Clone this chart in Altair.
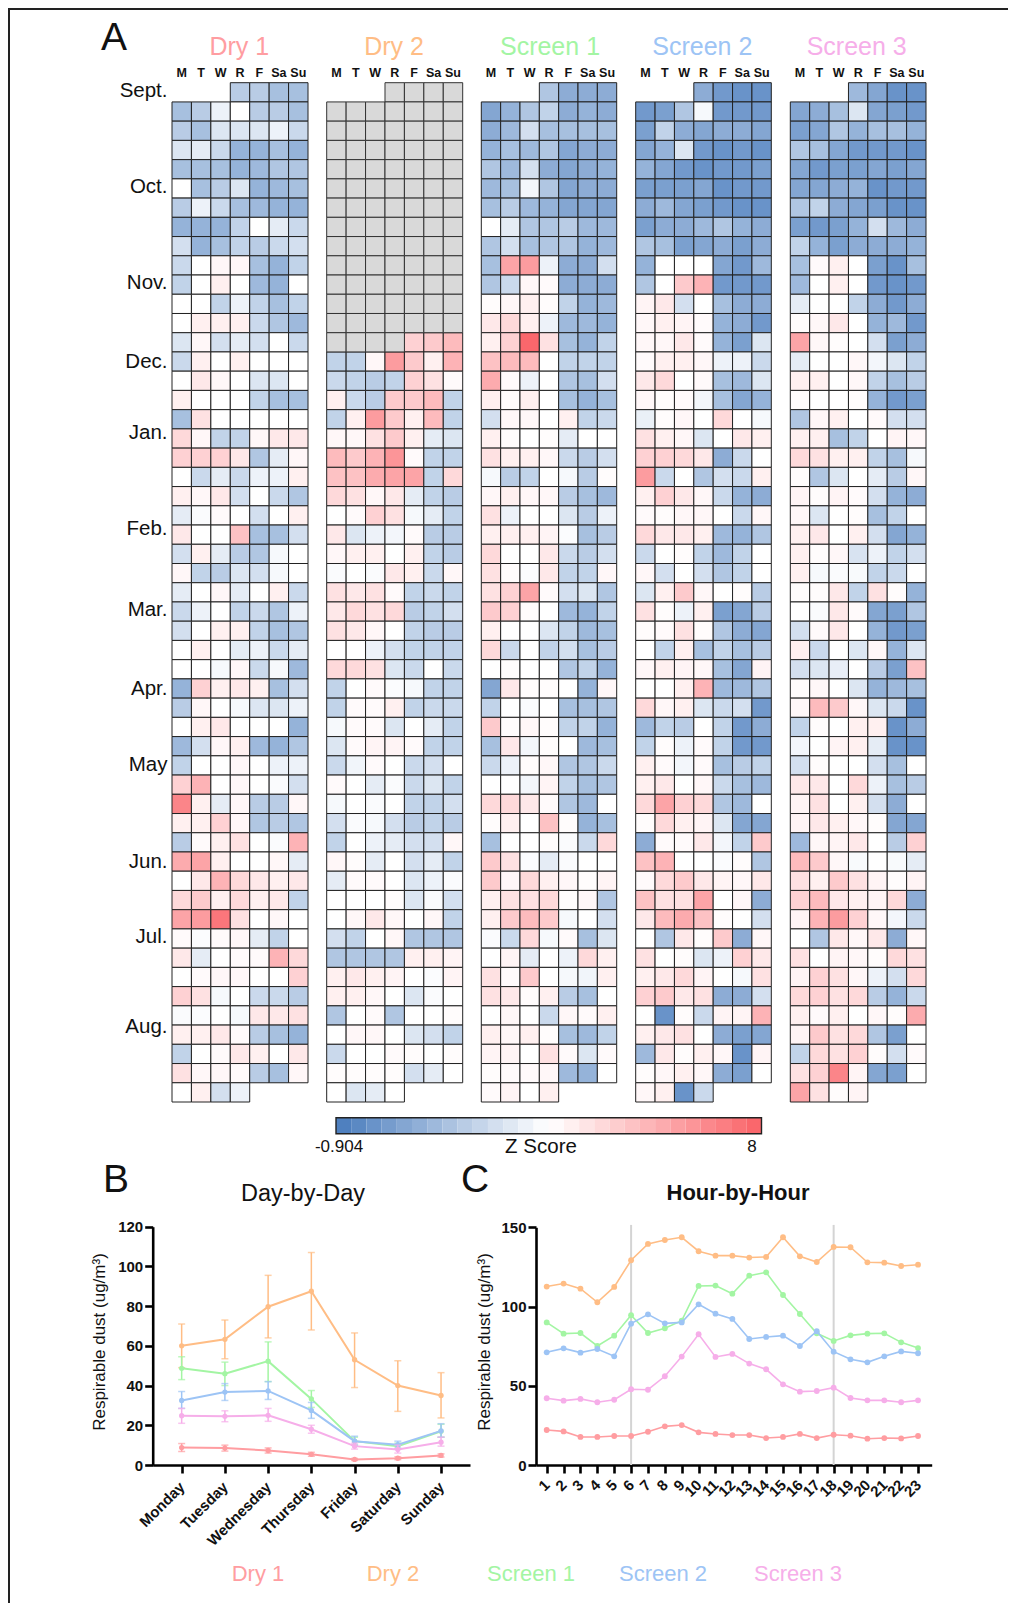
import altair as alt
import pandas as pd

N = None
G = "G"
DAYS = ["M", "T", "W", "R", "F", "Sa", "Su"]

dry1 = [
[N,N,N,-4,-4,-5,-5],[-5,-4,-1,0,-4,-4,-5],[-4,-5,-2,-2,-2,-1,-3],[-2,-1.5,-3,-6,-6,-5,-6],
[-5,-5,-5,-6,-5.5,-4.5,-4.5],[0,-5,-4,-2,-6,-5.5,-5],[-4,-1,-3,-5,-5.5,-6,-6],[-6,-6,-6,-3.5,0,-1.5,-3],
[-2.5,-6,-5,-3.5,-4,-3,-2.5],[-3,0,0.5,0.5,-5,-6,-3.5],[-3.5,0,1,0,-5.5,-6,0],[0,0,-3.5,-1,-3.5,-5,-3.5],
[0,1,1,1,-3,-4.5,-5.5],[-2,0.5,-2.5,-1.5,-2.5,0,-3],[-3,1,0,1,0,0,0],[0,1.5,0.5,0,-2,-2,0],
[1,0,0,0,-3.5,-5,-5],[-5,2,0,0,0,0,0],[2.5,0.5,-3.5,-3.5,0.5,1.5,1.5],[3,3,3,1.5,-4.5,-1.5,0.5],
[0,-3,-1.5,-3,-1,-1,1],[1,0.5,1.5,-2.5,0,-3,-4.5],[-1.5,-0.3,0.3,0,-2.5,0,1],[1.5,0,0,4,-5,-5,-2.5],
[-2.5,1,-1.5,-4,-4.5,-0.5,0],[0.5,-3.5,-4,-2,-2.5,-0.5,0],[-1.5,0,0.5,-1.5,0,1,-3],[-3,-1,0,-3.5,-3,-4.5,-1],
[-2.5,0,1,1,-3.5,-5,-4.5],[0,1,0,-1.5,-1,-3,-1.5],[0,0,-0.5,0.5,-3,-0.5,-5.5],[-6,3,1,1.5,1,-5,-2.5],
[-4,0.5,0,-0.5,-2,-2,-1],[0,1,1.5,0,0,0,-6],[-5.5,-2.5,0.5,1,-5.5,-6,-4.5],[-3.5,0,0,0.5,0,-1,-1],
[3,5,0,0.5,0,-0.3,-2.5],[8,1,-1.5,0.5,-4,-4,0.5],[1,1,3,0.5,-4.5,-4,-4.5],[-4,0.3,1,2,0,-0.3,5],
[5.5,6,1,0,0,0.5,-1.5],[0,1.5,5,2.5,1.5,1,1.5],[2.5,3.5,1,2.5,1,1.5,-3.5],[6,6.5,9,2,0,0.5,0],
[0.3,-0.2,0.3,0.5,-1.5,-3.5,0],[1.5,-1.5,0,0.3,0.3,5,2.5],[0,0.3,0.5,0.5,0,0,3],[3,2,-0.5,0,-3,-3,-4],
[-0.3,-0.2,0,-0.5,1.5,1.5,2],[1,1,1.5,0.3,-4,-5,-6],[-3.5,0,0.3,1.5,1,0,1.5],[2,0.5,0.5,0.3,-4,-5,0.5],
[0,1,-2.5,-1,N,N,N],
]

dry2 = [
[N,N,N,G,G,G,G],[G]*7,[G]*7,[G]*7,[G]*7,[G]*7,[G]*7,[G]*7,[G]*7,[G]*7,[G]*7,[G]*7,[G]*7,
[G,G,G,G,3,3.5,4.5],[-3.5,-3.5,0.5,6.5,3.5,1,5],[-3,-3.5,-4,-3.5,3,2,0.3],
[1,-3,-4,3.5,3.5,4.5,-3.5],[-3.5,1,6.5,3.5,1,4.5,-3.5],[0.5,0.5,2,3.5,1,-1.5,-2],[4.5,3.5,5,7,0.3,-3.5,-3.5],
[4,4,5.5,6,6,-3.5,2.5],[2.5,2,0.5,1.5,-1.5,-3.5,-4],[0,0.3,3,2,-0.5,-1.5,-3.5],[1.5,-2,-1,-0.7,0.3,-4,-4],
[0.5,1,1,0,1,-3.5,-4],[-0.3,0,-0.3,1.5,1,-3,0.5],[2,1.5,2,0.3,-3.5,-3,-3.5],[1.5,2.5,2,2.5,-4,-3.5,-2.5],
[2,1.5,0.5,0,-3.5,-4,-4],[0,0,-1,-2.5,-3.5,-3.5,-3.5],[2.5,2.5,2,-2,-3,0,-3],[-3.5,0,0.3,-0.2,-0.5,-3.5,-3.5],
[-3.5,0.3,0.3,1,-3.5,-3,-3],[-0.5,0.3,0.3,-2,0,-1.5,-3.5],[-2,0.3,0.7,0.7,0.3,-3.5,-3.5],[-3,-0.8,0.3,0,-3,-2.5,0],
[0.3,0,-1.5,-0.3,-3,-2,-3.5],[-0.5,0,-0.3,0,-3.5,-3.5,-2.5],[-2.5,-0.3,-0.5,-2.5,-4,-3.5,-4],[-3.5,0,-1,-1.5,-2.5,-2.5,0.5],
[0.5,0.2,-1.5,0,-2.5,-1.5,-3.5],[-1.5,0.3,0.3,0,-2,-1,-0.3],[0,0,0,0.2,-2,-0.3,-2.5],[0,0.5,1.5,0.5,0,0.5,-3.5],
[-2.5,-3.5,0,0.5,-4.5,-4.5,-4.5],[-4.5,-4.5,-4.5,-4.5,1,1,0.7],[1,1.5,1,0.7,0,-0.2,0.7],[1,1,0.5,0,-2,-0.3,0],
[-4.5,0,0.3,-4.5,0,0,0.2],[0,0.5,0.5,0,-2,-2.5,-3.5],[-3,0,0,0.3,0.2,0,0.2],[0.2,0.2,0.2,0.2,-2.5,-1.5,0],
[0,-2,-1.5,0,N,N,N],
]

screen1 = [
[N,N,N,-4.5,-6.5,-6.5,-6.5],[-7,-6,-4.5,-3.5,-6.5,-6,-6.5],[-6.5,-5.5,-2.5,-5,-5,-5,-5],[-6,-5,-5.5,-4.5,-7,-6.5,-6.5],
[-4.5,-5.5,-2.5,-6.5,-7,-6.5,-6],[-5.5,-5,-0.7,-4.5,-7,-6.5,-6.5],[-5,-4,-5.5,-6,-7,-7,-7],[0,-1.5,-4.5,-4.5,-4,-5.5,-5.5],
[-4.5,-2.5,-5,-4.5,-4.5,-6,-5.5],[-5,6,6.5,-1,-6.5,-6.5,-2.5],[-4.5,-3,0.5,0.3,-6.5,-6.5,-6.5],[0.2,0.5,1,0.2,-3.5,-6,-5.5],
[1.5,2.5,1,-1,-5.5,-5.5,-6],[1,3,10,2,-5,-6,-3.5],[4,4.5,4.5,0,-3.5,-3.5,-3.5],[5.5,0.3,-1,0,-4.5,-5,-2.5],
[1,0.2,1,0,-5,-6,-5],[-2.5,0.5,0.5,0,1,-3.5,-3],[1,0.2,0,0.2,-1.5,0,0],[2,1,1,0.5,-3,-4,-2.5],
[-0.5,-4,-3.5,0,-0.5,-4,0.2],[0.5,1,0.5,0.5,-4,-5,-5.5],[2,-1,0,0,-2,-4,-1],[1,1,1,0.7,-0.2,-5,-4],
[2.5,0,0,1.5,-3,-4,-2.5],[2,0.2,-0.2,1.5,-3.5,-3.5,0.5],[2,3,6,0.3,-2.5,-2,-4.5],[3.5,3,0.2,0,-5.5,-6,-3.5],
[1,0,0,-2,-3.5,-5.5,-5],[2.5,-3,0,-3.5,-2.5,-5,-4],[0,0.2,0,0,-4.5,-3.5,-6],[-7,1.5,0.2,0.2,0,-6,0.5],
[-3.5,0,-0.3,0,-5,-5,-4.5],[3.5,0.2,0.5,0.2,-3.5,-3.5,-6],[-5,1.5,-0.7,0.2,0,-5.5,-5],[-3,-1,0.2,0.5,-4.5,-4.5,-3],
[0,0,-0.7,0.7,-3.5,-5,-4.5],[2.5,2.5,1.5,0.3,-4.5,-5.5,0],[0.2,1,0,4,0.2,-6,-5],[-5,0,0,0.2,-0.3,-3,2.5],
[3.5,2,-0.2,-1.5,-0.3,0,0],[3.5,0.5,2.5,1,0.5,0.2,0.7],[1,2,2,2.5,0.2,0.5,-4.5],[1,3.5,4.5,3.5,-0.5,0,-2.5],
[-0.3,-3,2.5,-0.5,0.3,-5,-2],[0,0.7,-1.5,0,-1,2.5,1],[2,0.3,3.5,0,-0.5,-0.8,1],[2,1.5,0.2,1,-4,-5,0],
[0,0.5,0,-3,0.5,0.3,1],[1,0.5,1,0.2,-5,-5.5,-3.5],[0.7,0.7,0,2,0.3,-2,0.3],[0.2,0.3,0.3,0.5,-5.5,-6,0],
[0.3,0.7,0,1,N,N,N],
]

screen2 = [
[N,N,N,-6.5,-8,-8.5,-8.5],[-8,-7.5,-4.5,-0.5,-8,-8,-8],[-7.5,-3.5,-6.5,-7,-6.5,-6.5,-7],[-7,-6,-2,-8,-8.5,-8,-8.5],
[-6,-7,-8,-8.5,-8,-8,-7.5],[-7.5,-7.5,-7.5,-7,-8.5,-8,-8],[-6.5,-5.5,-7,-7.5,-8,-8.5,-8.5],[-7.5,-6.5,-6.5,-5.5,-4.5,-6,-6.5],
[-4.5,-5,-7.5,-7,-6.5,-7.5,-6.5],[-6,0,0,0,-7,-8,-5.5],[-4.5,0,3.5,5,-8,-8,-8],[0.7,1.5,-2.5,0,-5,-6.5,-6.5],
[0.5,1,0.7,0.3,-6,-6.5,-8],[0.5,0.5,1.5,0.3,-6,-7.5,-2],[0.3,1,1,0.5,-1,-1,-3],[1.5,2.5,0,0.3,-5,-5.5,-2],
[0.5,0.2,0.3,-0.7,-5,-7,-6],[-1.2,0.2,0.5,0,2.5,0,-0.5],[2,1,0.5,-2,0,1.5,1],[3,3,2.5,1.5,-6.5,-3,0],
[6.5,-3,0,-4.5,-2.5,-3,1],[1,3,1.5,0.5,-3,-6,-6.5],[0.3,0.2,0.5,0.5,0,-3,0.5],[2.5,1.5,1.5,1,-5.5,-6,-4.5],
[-3,0,0.2,-3.5,-5.5,-3.5,0],[0.5,-2.5,0,-2.5,-4.5,-3.5,0],[-2,1,3.5,0.5,0,0.2,-4],[2,0.2,-1,1,-7.5,-7,-4],
[0.2,0.3,2,0.2,-4.5,-6.5,-7],[0,-3.5,1,-5,-3.5,-5,-4],[0.5,1,0.7,0.5,-5,-7,0.7],[0,0,1,5,-5.5,-5.5,-4.5],
[2.5,0.5,1,-2,-3,-2.5,-8],[-5.5,-3.5,-4,0,-3.5,-8,-6.5],[-3.5,0.2,-1,0.3,-3.5,-8,-8],[1,0.3,-0.7,0.3,-5,-4,-3.5],
[1,1.5,0,0.5,-3,-5,-5.5],[2.5,6,3,2.5,-4.5,-5.5,0],[0.2,2.5,1,0.7,-2,-7,-7],[-6.5,0.3,0.3,1.5,-0.7,-3.5,3.5],
[4,5,0,0,-0.2,0.2,-4.5],[0.3,2.5,3.5,1.5,0.7,0.5,1.5],[4,2,2,6,0,0.5,-6.5],[1.5,4.5,5.5,4,0.2,0,-2.5],
[0,-4.5,1.5,0.2,3.5,-6.5,0.5],[2,0,0.2,-2,-1,3,1.5],[1,1.5,2.5,0.7,0,-0.5,2],[3,3.5,1.5,2,-6.5,-6.5,-2.5],
[0,-8.5,0.2,-3,0.7,0.7,5],[1,1.5,2,0,-6.5,-7.5,-7],[-5.5,1.5,0.2,1,0.5,-8.5,0.7],[0.2,0.5,1,0.5,-6.5,-7.5,0],
[0.5,1,-8.5,-3,N,N,N],
]

screen3 = [
[N,N,N,-5.5,-7,-8.5,-8.5],[-7,-6.5,-5,-2,-7,-7.5,-8],[-7.5,-7,-4.5,-6,-5,-5,-6],[-4.5,-5,-7,-8,-8,-8,-8.5],
[-7,-8,-7.5,-7.5,-7,-7.5,-7],[-7,-7,-6.5,-6,-8.5,-8,-8],[-4.5,-3.5,-6.5,-7,-7.5,-8.5,-8.5],[-7.5,-8,-7.5,-6,-2.5,-5.5,-6.5],
[-3.5,-6,-7.5,-6.5,-6.5,-6.5,-6],[-5,0.3,1,0,-7.5,-8.5,-5],[-5.5,0,1,0,-8,-8.5,-8],[-1.5,0,0,-3.5,-6.5,-8,-6.5],
[0.2,0.5,1.5,0,-6,-5.5,-8],[6,0.5,0.2,0,-2.5,-7.5,-6.5],[-1.5,0,0,0.5,-0.7,-2,-3.5],[1,1,0,0.5,-3.5,-5,-4],
[0.2,0,0,0.2,-6,-8,-7.5],[-4.5,0.5,1,0,0.3,-2.5,-2.5],[1,1,-5,-3.5,0,0.7,0.5],[2.5,2,1,1,-3.5,-5,-0.5],
[0.2,-4.5,-2,0,-1.5,-4,0.5],[0.7,0.2,0.7,0.3,-2.5,-6,-6.5],[0.5,-2,0,0.2,-5,-3.5,0],[1,1.5,0,1,-2.5,-7,-6],
[1,0.2,0.5,-2.2,-1,-3.5,-2.5],[1,-0.5,-0.3,-0.4,-3.5,-3,0],[0.2,0.2,1.5,-3.5,2,0.2,-6],[0,-0.3,1.5,0.3,-7,-7.5,-4.5],
[-2.5,0.3,1.5,0,-6,-8,-7.5],[1,-3,0,-2,0.5,-6,-2],[-2.5,-2,-1.3,0,-4,-7.5,4],[0.2,0.5,0,-2,-6,-5.5,-5],
[0.5,4.5,3.5,0.5,-2,-3,-8.5],[-3.5,0.2,0,1,1,-8.5,-6.5],[-0.7,0,0.7,1,-1.5,-8.5,-8.5],[-2.5,0.2,0,0,-2.5,-5,0],
[1.5,1.5,0,2.5,-1,-5,-4],[0.7,2,0,1,-2.5,-6.5,0],[0.7,1.5,1,0.5,0.2,-7,-7],[-5.5,0.5,0.7,1.5,0,-4,3],
[4.5,3.5,0.5,-0.4,0,-0.4,-1.5],[2,1,3.5,2,0.7,0.2,0.7],[3,4.5,1.5,1,0.7,2.5,-6.5],[0.7,5,6.5,3,0.5,-0.7,-3],
[0,-4.5,1.5,0.5,1.5,-6.5,0.5],[2,0,0.7,0.5,0.2,2.5,2],[0.7,3,2,0.5,-1,-2.5,2.5],[2.5,3,2,2.5,-4,-6,-3],
[1,0.3,1,0,0.5,0.2,5.5],[0.7,3.5,2,2.5,-4.5,-7.5,0],[-3.5,2.5,2,3,0.2,-2.5,0.3],[2,3,8,0.7,-7,-7.5,0],
[6,2,0.2,0.7,N,N,N],
]

months = ["Sept.", "Oct.", "Nov.", "Dec.", "Jan.", "Feb.", "Mar.", "Apr.", "May", "Jun.", "Jul.", "Aug."]
month_rows = [0.45, 5.4, 10.4, 14.5, 18.2, 23.2, 27.4, 31.5, 35.5, 40.5, 44.4, 49.1]
legend_levels = [-10,-9.3,-8.5,-7.8,-7,-6.3,-5.5,-4.8,-4,-3.3,-2.5,-1.8,-1,-0.3,0.3,1,1.8,2.5,3.3,4,4.8,5.5,6.3,7,7.8,8.5,9.3,10]

week_days = ["Monday", "Tuesday", "Wednesday", "Thursday", "Friday", "Saturday", "Sunday"]
series_names = ["Dry 1", "Dry 2", "Screen 1", "Screen 2", "Screen 3"]
series_colors = ["#ff9da1", "#ffbd85", "#a3f5a3", "#9dc4f5", "#f6aee9"]

day_mean = {
    "Dry 1": [8.8, 8.5, 7.3, 5.4, 2.8, 3.4, 4.8],
    "Dry 2": [60, 63.3, 79.7, 87.5, 53, 40, 35],
    "Screen 1": [48.7, 46, 52.3, 33.3, 12, 9.5, 17],
    "Screen 2": [32.5, 36.7, 37.3, 27.5, 12, 10.2, 17.2],
    "Screen 3": [24.8, 24.5, 25, 18, 9.5, 7.8, 11.5],
}
day_hi = {
    "Dry 1": [10.8, 10, 8.6, 6.4, 3.3, 4.1, 5.6],
    "Dry 2": [71, 73, 95.5, 107, 66.5, 52.5, 46.5],
    "Screen 1": [54.5, 51.8, 62, 37.5, 14, 11, 20.5],
    "Screen 2": [37, 41, 42, 31.5, 14.5, 12, 20.8],
    "Screen 3": [28.5, 27.3, 28.5, 20, 11, 10, 14],
}
day_lo = {
    "Dry 1": [6.8, 7, 6, 4.4, 2.3, 2.7, 4],
    "Dry 2": [49, 53.5, 64, 68, 39, 27, 23.7],
    "Screen 1": [43, 40, 42, 29, 10, 8, 14],
    "Screen 2": [28.5, 32.5, 33, 23.5, 10, 8.5, 14],
    "Screen 3": [21, 21.8, 22, 16, 8, 6, 9.5],
}

hours = list(range(1, 24))
hour_values = {
    "Dry 1": [22.1,21.2,17.7,17.7,18.3,18.3,21,24.4,25.2,20.6,19.6,18.9,18.9,17,17.7,19.6,17,19.1,18.5,16.6,17,16.8,18.3],
    "Dry 2": [112.6,114.5,111.3,102.7,112.4,129.2,139.5,142,143.7,134.9,132.1,132.1,130.9,131.3,143.7,131.7,128.1,137.6,137.4,127.9,127.7,125.6,126.4],
    "Screen 1": [90,82.9,83.3,75.1,81.6,94.5,83.3,86.3,91.1,113,113.2,108.1,119.5,121.6,107.3,95.3,83.1,78.3,81.8,82.9,83.1,77.4,73.8],
    "Screen 2": [71.1,73.6,70.9,73.2,68.6,89.2,95.1,89.4,90,101.4,95.5,92.2,79.5,80.8,81.6,75.1,84.4,71.5,66.7,64.8,68.6,71.7,70.5],
    "Screen 3": [42.1,40.6,41.7,39.6,41.2,47.8,47.5,56,68.4,82.5,68.2,70.1,64,60.4,50.9,46.3,46.7,48.8,42.3,40.8,40.8,39.6,40.8],
}
hour_marks = [6, 18]

FONT = "Liberation Sans"
W, H = 1000, 1595
def px(v):
    return v - 8

COLOR = alt.Color("level:Q", legend=None, scale=alt.Scale(domain=[-10, 0, 10], range=["#4f80bf", "#ffffff", "#fa676c"], interpolate="rgb"))
ROW_RANGE = [px(82.7), px(1102.0)]
layers = []

panels = [
    (dry1, 172.0, 308.0, 239.3, "Dry 1"),
    (dry2, 326.7, 462.7, 394.0, "Dry 2"),
    (screen1, 481.3, 616.7, 550.0, "Screen 1"),
    (screen2, 635.7, 771.3, 702.3, "Screen 2"),
    (screen3, 790.3, 926.0, 856.7, "Screen 3"),
]

def text_layer(txt, x, y, size, color="#111111", weight="normal", angle=None, align="center"):
    kw = dict(fontSize=size, font=FONT, color=color, fontWeight=weight, align=align, baseline="middle")
    if angle is not None:
        kw["angle"] = angle
    return alt.Chart(alt.Data(values=[{"t": txt}])).mark_text(**kw).encode(
        text="t:N", x=alt.value(px(x)), y=alt.value(px(y)))

for (grid, x0, x1, xc, name), col in zip(panels, series_colors):
    rows = []
    grey = []
    for r, vals in enumerate(grid):
        for d, v in zip(DAYS, vals):
            if v is None:
                continue
            if v == G:
                grey.append({"row": r, "day": d})
            else:
                rows.append({"row": r, "day": d, "level": v})
    xscale = alt.Scale(type="band", domain=DAYS, range=[px(x0), px(x1)], paddingInner=0, paddingOuter=0)
    yscale = alt.Scale(type="band", domain=list(range(53)), range=ROW_RANGE, paddingInner=0, paddingOuter=0)
    layers.append(
        alt.Chart(pd.DataFrame(rows)).mark_rect(stroke="#222222", strokeWidth=1).encode(
            x=alt.X("day:N", scale=xscale, title=None, sort=DAYS,
                    axis=alt.Axis(orient="top", offset=-px(82.7), domain=False, ticks=False, labelAngle=0,
                                  labelFont=FONT, labelFontSize=12.5, labelFontWeight="bold", labelColor="#111111",
                                  labelPadding=3, grid=False)),
            y=alt.Y("row:O", scale=yscale, axis=None),
            color=COLOR,
        )
    )
    if grey:
        layers.append(
            alt.Chart(pd.DataFrame(grey)).mark_rect(stroke="#333333", strokeWidth=1, fill="#d9d9d9").encode(
                x=alt.X("day:N", scale=xscale, axis=None, sort=DAYS),
                y=alt.Y("row:O", scale=yscale, axis=None),
            )
        )
    layers.append(text_layer(name, xc, 46.5, 25, color=col))

# month labels
layers.append(
    alt.Chart(pd.DataFrame({"m": months, "pos": month_rows})).mark_text(
        font=FONT, fontSize=20.5, color="#111111", align="right", baseline="middle"
    ).encode(
        text="m:N",
        x=alt.value(px(167.5)),
        y=alt.Y("pos:Q", scale=alt.Scale(domain=[0, 53], range=ROW_RANGE), axis=None),
    )
)

# colour bar
layers.append(
    alt.Chart(pd.DataFrame({"i": list(range(len(legend_levels))), "level": legend_levels})).mark_rect().encode(
        x=alt.X("i:O", axis=None, scale=alt.Scale(type="band", domain=list(range(len(legend_levels))),
                range=[px(336.0), px(761.5)], paddingInner=0, paddingOuter=0)),
        y=alt.value(px(1117.7)), y2=alt.value(px(1133.7)),
        color=COLOR,
    )
)
layers.append(
    alt.Chart(alt.Data(values=[{}])).mark_rect(fillOpacity=0, stroke="#222222", strokeWidth=1.4).encode(
        x=alt.value(px(336.0)), x2=alt.value(px(761.5)), y=alt.value(px(1117.7)), y2=alt.value(px(1133.7)))
)
layers.append(text_layer("-0.904", 339, 1146.5, 17))
layers.append(text_layer("Z Score", 541, 1146.5, 20.5))
layers.append(text_layer("8", 752, 1146.5, 17))

# panel letters
layers.append(text_layer("A", 114, 38, 39))
layers.append(text_layer("B", 116, 1180, 39))
layers.append(text_layer("C", 475, 1180, 39))
layers.append(text_layer("Day-by-Day", 303, 1194, 23.5))
layers.append(text_layer("Hour-by-Hour", 738, 1193, 22, weight="bold"))
layers.append(text_layer("Respirable dust (ug/m³)", 100, 1342, 17, angle=270))
layers.append(text_layer("Respirable dust (ug/m³)", 485, 1342, 17, angle=270))

# bottom key
for name, col, x in zip(series_names, series_colors, [258, 393, 531, 663, 798]):
    layers.append(text_layer(name, x, 1574, 22, color=col))

AXIS_KW = dict(domainColor="#000000", domainWidth=2.6, tickColor="#000000", tickWidth=2.6, tickSize=8,
               labelFont=FONT, labelFontSize=15, labelFontWeight="bold", labelColor="#111111", grid=False,
               title=None)
bottom_off = px(1465) - H

# panel B
bx = alt.Scale(type="point", domain=week_days, range=[px(152.7), px(470.0)], padding=0.67)
by = alt.Scale(domain=[0, 120], range=[px(1465), px(1226.7)], nice=False, zero=False)
bx_none = alt.X("day:N", scale=bx, axis=None, sort=week_days)
by_none = alt.Y("v:Q", scale=by, axis=None)
layers.append(
    alt.Chart(pd.DataFrame({"day": week_days, "v": day_mean["Dry 1"]})).mark_line(opacity=0).encode(
        x=alt.X("day:N", scale=bx, sort=week_days, title=None,
                axis=alt.Axis(orient="bottom", offset=bottom_off, labelAngle=315, labelAlign="right",
                              labelBaseline="middle", labelPadding=11, **AXIS_KW)),
        y=alt.Y("v:Q", scale=by, title=None,
                axis=alt.Axis(orient="left", offset=-px(152.7), values=[0, 20, 40, 60, 80, 100, 120],
                              labelPadding=2, **AXIS_KW)),
    )
)
for name, col in zip(series_names, series_colors):
    df = pd.DataFrame({"day": week_days, "v": day_mean[name], "hi": day_hi[name], "lo": day_lo[name]})
    base = alt.Chart(df)
    layers.append(base.mark_rule(color=col, strokeWidth=1.5).encode(x=bx_none, y=alt.Y("lo:Q", scale=by, axis=None), y2="hi:Q"))
    layers.append(base.mark_tick(color=col, size=7, thickness=1.5, orient="horizontal").encode(x=bx_none, y=alt.Y("lo:Q", scale=by, axis=None)))
    layers.append(base.mark_tick(color=col, size=7, thickness=1.5, orient="horizontal").encode(x=bx_none, y=alt.Y("hi:Q", scale=by, axis=None)))
    layers.append(base.mark_line(color=col, strokeWidth=2).encode(x=bx_none, y=by_none))
    layers.append(base.mark_circle(color=col, size=28, opacity=1).encode(x=bx_none, y=by_none))

# panel C
cx = alt.Scale(type="linear", domain=[0.366, 23.81], range=[px(536.0), px(931.7)], nice=False, zero=False)
cy = alt.Scale(domain=[0, 150], range=[px(1465), px(1227.3)], nice=False, zero=False)
layers.append(
    alt.Chart(pd.DataFrame({"h": hours, "v": hour_values["Dry 1"]})).mark_line(opacity=0).encode(
        x=alt.X("h:Q", scale=cx, title=None,
                axis=alt.Axis(orient="bottom", offset=bottom_off, values=hours, labelAngle=315, labelAlign="right",
                              labelBaseline="middle", labelPadding=9, labelOverlap=False, format="d", **AXIS_KW)),
        y=alt.Y("v:Q", scale=cy, title=None,
                axis=alt.Axis(orient="left", offset=-px(536.0), values=[0, 50, 100, 150], labelPadding=2, **AXIS_KW)),
    )
)
layers.append(
    alt.Chart(pd.DataFrame({"h": hour_marks, "lo": [0, 0], "hi": [151.5, 151.5]})).mark_rule(color="#d4d4d4", strokeWidth=2).encode(
        x=alt.X("h:Q", scale=cx, axis=None), y=alt.Y("lo:Q", scale=cy, axis=None), y2="hi:Q")
)
cx_none = alt.X("h:Q", scale=cx, axis=None)
cy_none = alt.Y("v:Q", scale=cy, axis=None)
for name, col in zip(series_names, series_colors):
    base = alt.Chart(pd.DataFrame({"h": hours, "v": hour_values[name]}))
    layers.append(base.mark_line(color=col, strokeWidth=1.6).encode(x=cx_none, y=cy_none))
    layers.append(base.mark_circle(color=col, size=34, opacity=1).encode(x=cx_none, y=cy_none))

# page frame
layers.append(alt.Chart(alt.Data(values=[{}])).mark_rule(color="#222222", strokeWidth=2).encode(
    x=alt.value(0), x2=alt.value(W), y=alt.value(1)))
layers.append(alt.Chart(alt.Data(values=[{}])).mark_rule(color="#222222", strokeWidth=2).encode(
    x=alt.value(1), y=alt.value(0), y2=alt.value(H)))

chart = alt.layer(*layers).resolve_scale(x="independent", y="independent").resolve_axis(
    x="independent", y="independent"
).properties(
    width=W, height=H, padding=0, background="white",
    autosize=alt.AutoSizeParams(type="none"),
).configure_view(stroke=None)

chart.save("out.html", embed_options={"renderer": "svg", "actions": False})
